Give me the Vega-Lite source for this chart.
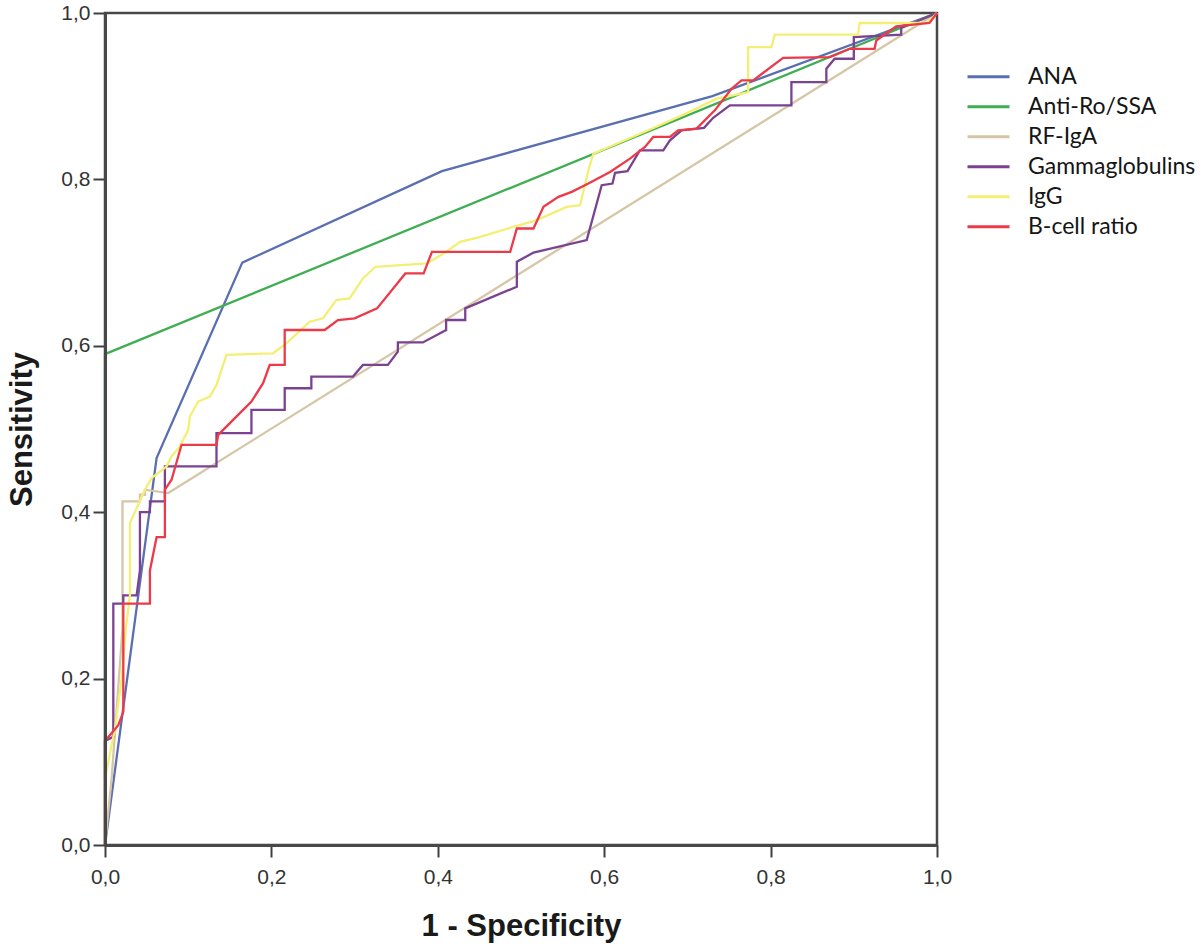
{
  "$schema": "https://vega.github.io/schema/vega-lite/v6.json",
  "autosize": {"type": "none"},
  "width": 832,
  "height": 832,
  "padding": {"left": 105, "top": 13, "right": 263, "bottom": 107},
  "background": "white",
  "config": {
    "font": "Liberation Sans",
    "view": {"stroke": "#484848", "strokeWidth": 2.5},
    "axis": {"grid": false, "domain": true, "domainColor": "#484848", "domainWidth": 3, "zindex": 1, "tickColor": "#404040", "tickSize": 12, "tickWidth": 2, "labelFont": "Liberation Sans", "labelFontSize": 21, "labelColor": "#333", "labelFlush": false, "titleFont": "Liberation Sans", "titleFontWeight": "bold", "titleFontSize": 31, "titleColor": "#1a1a1a"}
  },
  "data": {"values": [
    {"s":"ANA","i":0,"x":0,"y":0},{"s":"ANA","i":1,"x":0.062,"y":0.465},{"s":"ANA","i":2,"x":0.165,"y":0.70},{"s":"ANA","i":3,"x":0.405,"y":0.81},{"s":"ANA","i":4,"x":0.73,"y":0.90},{"s":"ANA","i":5,"x":1,"y":1},
    {"s":"Anti-Ro/SSA","i":0,"x":0,"y":0},{"s":"Anti-Ro/SSA","i":1,"x":0,"y":0.59},{"s":"Anti-Ro/SSA","i":2,"x":1,"y":1},
    {"s":"RF-IgA","i":0,"x":0,"y":0},{"s":"RF-IgA","i":1,"x":0.008,"y":0.08},{"s":"RF-IgA","i":2,"x":0.021,"y":0.26},{"s":"RF-IgA","i":3,"x":0.021,"y":0.413},{"s":"RF-IgA","i":4,"x":0.042,"y":0.413},{"s":"RF-IgA","i":5,"x":0.042,"y":0.421},{"s":"RF-IgA","i":6,"x":0.048,"y":0.421},{"s":"RF-IgA","i":7,"x":0.048,"y":0.427},{"s":"RF-IgA","i":8,"x":0.076,"y":0.423},{"s":"RF-IgA","i":9,"x":1,"y":1},
    {"s":"Gammaglobulins","i":0,"x":0,"y":0},{"s":"Gammaglobulins","i":1,"x":0,"y":0.125},{"s":"Gammaglobulins","i":2,"x":0.01,"y":0.13},{"s":"Gammaglobulins","i":3,"x":0.01,"y":0.29},{"s":"Gammaglobulins","i":4,"x":0.022,"y":0.29},{"s":"Gammaglobulins","i":5,"x":0.022,"y":0.30},{"s":"Gammaglobulins","i":6,"x":0.038,"y":0.30},{"s":"Gammaglobulins","i":7,"x":0.042,"y":0.33},{"s":"Gammaglobulins","i":8,"x":0.042,"y":0.40},{"s":"Gammaglobulins","i":9,"x":0.054,"y":0.40},{"s":"Gammaglobulins","i":10,"x":0.054,"y":0.413},{"s":"Gammaglobulins","i":11,"x":0.072,"y":0.413},{"s":"Gammaglobulins","i":12,"x":0.072,"y":0.455},{"s":"Gammaglobulins","i":13,"x":0.134,"y":0.455},{"s":"Gammaglobulins","i":14,"x":0.134,"y":0.495},{"s":"Gammaglobulins","i":15,"x":0.176,"y":0.495},{"s":"Gammaglobulins","i":16,"x":0.176,"y":0.523},{"s":"Gammaglobulins","i":17,"x":0.216,"y":0.523},{"s":"Gammaglobulins","i":18,"x":0.216,"y":0.549},{"s":"Gammaglobulins","i":19,"x":0.248,"y":0.549},{"s":"Gammaglobulins","i":20,"x":0.248,"y":0.563},{"s":"Gammaglobulins","i":21,"x":0.298,"y":0.563},{"s":"Gammaglobulins","i":22,"x":0.31,"y":0.577},{"s":"Gammaglobulins","i":23,"x":0.34,"y":0.577},{"s":"Gammaglobulins","i":24,"x":0.352,"y":0.593},{"s":"Gammaglobulins","i":25,"x":0.352,"y":0.604},{"s":"Gammaglobulins","i":26,"x":0.382,"y":0.604},{"s":"Gammaglobulins","i":27,"x":0.41,"y":0.619},{"s":"Gammaglobulins","i":28,"x":0.41,"y":0.631},{"s":"Gammaglobulins","i":29,"x":0.433,"y":0.631},{"s":"Gammaglobulins","i":30,"x":0.433,"y":0.645},{"s":"Gammaglobulins","i":31,"x":0.495,"y":0.671},{"s":"Gammaglobulins","i":32,"x":0.495,"y":0.701},{"s":"Gammaglobulins","i":33,"x":0.515,"y":0.712},{"s":"Gammaglobulins","i":34,"x":0.579,"y":0.727},{"s":"Gammaglobulins","i":35,"x":0.597,"y":0.793},{"s":"Gammaglobulins","i":36,"x":0.61,"y":0.795},{"s":"Gammaglobulins","i":37,"x":0.613,"y":0.808},{"s":"Gammaglobulins","i":38,"x":0.628,"y":0.81},{"s":"Gammaglobulins","i":39,"x":0.643,"y":0.835},{"s":"Gammaglobulins","i":40,"x":0.671,"y":0.835},{"s":"Gammaglobulins","i":41,"x":0.679,"y":0.847},{"s":"Gammaglobulins","i":42,"x":0.693,"y":0.859},{"s":"Gammaglobulins","i":43,"x":0.72,"y":0.862},{"s":"Gammaglobulins","i":44,"x":0.731,"y":0.874},{"s":"Gammaglobulins","i":45,"x":0.751,"y":0.889},{"s":"Gammaglobulins","i":46,"x":0.825,"y":0.889},{"s":"Gammaglobulins","i":47,"x":0.825,"y":0.917},{"s":"Gammaglobulins","i":48,"x":0.867,"y":0.917},{"s":"Gammaglobulins","i":49,"x":0.867,"y":0.933},{"s":"Gammaglobulins","i":50,"x":0.877,"y":0.945},{"s":"Gammaglobulins","i":51,"x":0.9,"y":0.945},{"s":"Gammaglobulins","i":52,"x":0.9,"y":0.971},{"s":"Gammaglobulins","i":53,"x":0.957,"y":0.974},{"s":"Gammaglobulins","i":54,"x":0.957,"y":0.982},{"s":"Gammaglobulins","i":55,"x":1,"y":1},
    {"s":"IgG","i":0,"x":0,"y":0},{"s":"IgG","i":1,"x":0,"y":0.08},{"s":"IgG","i":2,"x":0.012,"y":0.14},{"s":"IgG","i":3,"x":0.02,"y":0.2},{"s":"IgG","i":4,"x":0.025,"y":0.26},{"s":"IgG","i":5,"x":0.03,"y":0.30},{"s":"IgG","i":6,"x":0.03,"y":0.387},{"s":"IgG","i":7,"x":0.048,"y":0.427},{"s":"IgG","i":8,"x":0.056,"y":0.441},{"s":"IgG","i":9,"x":0.074,"y":0.455},{"s":"IgG","i":10,"x":0.08,"y":0.467},{"s":"IgG","i":11,"x":0.09,"y":0.479},{"s":"IgG","i":12,"x":0.1,"y":0.499},{"s":"IgG","i":13,"x":0.102,"y":0.515},{"s":"IgG","i":14,"x":0.112,"y":0.533},{"s":"IgG","i":15,"x":0.126,"y":0.539},{"s":"IgG","i":16,"x":0.134,"y":0.553},{"s":"IgG","i":17,"x":0.146,"y":0.589},{"s":"IgG","i":18,"x":0.202,"y":0.591},{"s":"IgG","i":19,"x":0.218,"y":0.603},{"s":"IgG","i":20,"x":0.246,"y":0.629},{"s":"IgG","i":21,"x":0.262,"y":0.633},{"s":"IgG","i":22,"x":0.278,"y":0.655},{"s":"IgG","i":23,"x":0.294,"y":0.657},{"s":"IgG","i":24,"x":0.31,"y":0.681},{"s":"IgG","i":25,"x":0.325,"y":0.695},{"s":"IgG","i":26,"x":0.387,"y":0.699},{"s":"IgG","i":27,"x":0.407,"y":0.711},{"s":"IgG","i":28,"x":0.427,"y":0.725},{"s":"IgG","i":29,"x":0.451,"y":0.731},{"s":"IgG","i":30,"x":0.491,"y":0.743},{"s":"IgG","i":31,"x":0.519,"y":0.751},{"s":"IgG","i":32,"x":0.555,"y":0.767},{"s":"IgG","i":33,"x":0.571,"y":0.769},{"s":"IgG","i":34,"x":0.581,"y":0.811},{"s":"IgG","i":35,"x":0.587,"y":0.831},{"s":"IgG","i":36,"x":0.62,"y":0.845},{"s":"IgG","i":37,"x":0.66,"y":0.862},{"s":"IgG","i":38,"x":0.70,"y":0.88},{"s":"IgG","i":39,"x":0.735,"y":0.897},{"s":"IgG","i":40,"x":0.755,"y":0.901},{"s":"IgG","i":41,"x":0.773,"y":0.905},{"s":"IgG","i":42,"x":0.773,"y":0.959},{"s":"IgG","i":43,"x":0.801,"y":0.959},{"s":"IgG","i":44,"x":0.805,"y":0.974},{"s":"IgG","i":45,"x":0.905,"y":0.974},{"s":"IgG","i":46,"x":0.907,"y":0.988},{"s":"IgG","i":47,"x":0.988,"y":0.988},{"s":"IgG","i":48,"x":1,"y":1},
    {"s":"B-cell ratio","i":0,"x":0,"y":0},{"s":"B-cell ratio","i":1,"x":0,"y":0.125},{"s":"B-cell ratio","i":2,"x":0.016,"y":0.144},{"s":"B-cell ratio","i":3,"x":0.022,"y":0.16},{"s":"B-cell ratio","i":4,"x":0.022,"y":0.29},{"s":"B-cell ratio","i":5,"x":0.054,"y":0.29},{"s":"B-cell ratio","i":6,"x":0.054,"y":0.33},{"s":"B-cell ratio","i":7,"x":0.062,"y":0.37},{"s":"B-cell ratio","i":8,"x":0.072,"y":0.37},{"s":"B-cell ratio","i":9,"x":0.072,"y":0.427},{"s":"B-cell ratio","i":10,"x":0.08,"y":0.439},{"s":"B-cell ratio","i":11,"x":0.092,"y":0.481},{"s":"B-cell ratio","i":12,"x":0.134,"y":0.481},{"s":"B-cell ratio","i":13,"x":0.136,"y":0.493},{"s":"B-cell ratio","i":14,"x":0.166,"y":0.523},{"s":"B-cell ratio","i":15,"x":0.176,"y":0.533},{"s":"B-cell ratio","i":16,"x":0.19,"y":0.555},{"s":"B-cell ratio","i":17,"x":0.198,"y":0.577},{"s":"B-cell ratio","i":18,"x":0.216,"y":0.577},{"s":"B-cell ratio","i":19,"x":0.216,"y":0.619},{"s":"B-cell ratio","i":20,"x":0.264,"y":0.619},{"s":"B-cell ratio","i":21,"x":0.28,"y":0.631},{"s":"B-cell ratio","i":22,"x":0.3,"y":0.633},{"s":"B-cell ratio","i":23,"x":0.327,"y":0.645},{"s":"B-cell ratio","i":24,"x":0.361,"y":0.687},{"s":"B-cell ratio","i":25,"x":0.383,"y":0.687},{"s":"B-cell ratio","i":26,"x":0.393,"y":0.713},{"s":"B-cell ratio","i":27,"x":0.487,"y":0.713},{"s":"B-cell ratio","i":28,"x":0.495,"y":0.741},{"s":"B-cell ratio","i":29,"x":0.515,"y":0.741},{"s":"B-cell ratio","i":30,"x":0.527,"y":0.767},{"s":"B-cell ratio","i":31,"x":0.545,"y":0.779},{"s":"B-cell ratio","i":32,"x":0.561,"y":0.785},{"s":"B-cell ratio","i":33,"x":0.581,"y":0.795},{"s":"B-cell ratio","i":34,"x":0.607,"y":0.809},{"s":"B-cell ratio","i":35,"x":0.631,"y":0.825},{"s":"B-cell ratio","i":36,"x":0.649,"y":0.839},{"s":"B-cell ratio","i":37,"x":0.659,"y":0.851},{"s":"B-cell ratio","i":38,"x":0.679,"y":0.851},{"s":"B-cell ratio","i":39,"x":0.689,"y":0.859},{"s":"B-cell ratio","i":40,"x":0.711,"y":0.861},{"s":"B-cell ratio","i":41,"x":0.733,"y":0.883},{"s":"B-cell ratio","i":42,"x":0.753,"y":0.909},{"s":"B-cell ratio","i":43,"x":0.765,"y":0.919},{"s":"B-cell ratio","i":44,"x":0.779,"y":0.919},{"s":"B-cell ratio","i":45,"x":0.815,"y":0.946},{"s":"B-cell ratio","i":46,"x":0.871,"y":0.947},{"s":"B-cell ratio","i":47,"x":0.895,"y":0.957},{"s":"B-cell ratio","i":48,"x":0.925,"y":0.957},{"s":"B-cell ratio","i":49,"x":0.927,"y":0.967},{"s":"B-cell ratio","i":50,"x":0.951,"y":0.984},{"s":"B-cell ratio","i":51,"x":0.991,"y":0.988},{"s":"B-cell ratio","i":52,"x":1,"y":1}
  ]},
  "mark": {"type": "line", "strokeWidth": 2.3, "clip": false},
  "encoding": {
    "x": {"field": "x", "type": "quantitative", "scale": {"domain": [0, 1], "nice": false, "zero": false},
      "axis": {"zindex": 1, "values": [0, 0.2, 0.4, 0.6, 0.8, 1.0], "labelExpr": "replace(format(datum.value, '.1f'), '.', ',')", "title": "1 - Specificity", "titlePadding": 24, "labelPadding": 9}},
    "y": {"field": "y", "type": "quantitative", "scale": {"domain": [0, 1], "nice": false, "zero": false},
      "axis": {"zindex": 1, "values": [0, 0.2, 0.4, 0.6, 0.8, 1.0], "labelExpr": "replace(format(datum.value, '.1f'), '.', ',')", "title": "Sensitivity", "titlePadding": 22, "labelPadding": 3}},
    "color": {"field": "s", "type": "nominal",
      "scale": {"domain": ["ANA", "Anti-Ro/SSA", "RF-IgA", "Gammaglobulins", "IgG", "B-cell ratio"], "range": ["#5a6fb0", "#3fae52", "#d6c6a6", "#7a4290", "#f4ef74", "#ec3a48"]},
      "legend": {"title": null, "orient": "none", "legendX": 861, "legendY": 49, "symbolType": "stroke", "symbolSize": 1764, "symbolStrokeWidth": 3, "clipHeight": 29.6, "rowPadding": 0, "labelFontSize": 23, "labelFont": "Lato", "labelColor": "#151515", "labelOffset": 17, "labelLimit": 400}},
    "order": {"field": "i", "type": "quantitative"}
  }
}
